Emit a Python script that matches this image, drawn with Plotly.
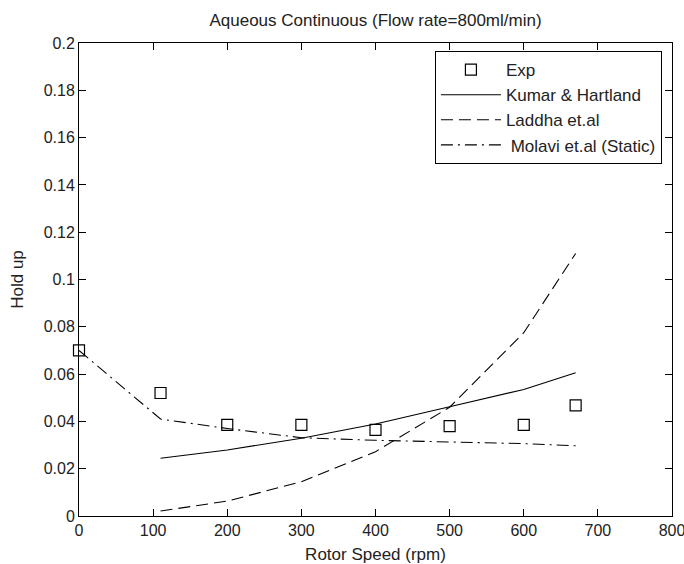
import plotly.graph_objects as go

exp_x = [0, 110, 200, 300, 400, 500, 600, 670]
exp_y = [0.070, 0.052, 0.0385, 0.0385, 0.0364, 0.038, 0.0385, 0.0468]

model_x = [110, 200, 300, 400, 500, 600, 670]
kumar_y = [0.0244, 0.0279, 0.0329, 0.0389, 0.0462, 0.0535, 0.0606]
laddha_y = [0.0021, 0.0063, 0.0145, 0.0272, 0.046, 0.0775, 0.111]

molavi_x = [0, 110, 200, 300, 400, 500, 600, 670]
molavi_y = [0.070, 0.041, 0.037, 0.0331, 0.032, 0.0314, 0.0306, 0.0297]

FONT = "Liberation Sans, Arial, sans-serif"

fig = go.Figure()
fig.add_trace(go.Scatter(x=exp_x, y=exp_y, mode="markers", name="Exp", cliponaxis=False,
                         marker=dict(symbol="square-open", size=11, color="black",
                                     line=dict(width=1.2, color="black"))))
fig.add_trace(go.Scatter(x=model_x, y=kumar_y, mode="lines", name="Kumar & Hartland",
                         line=dict(color="black", width=1.1)))
fig.add_trace(go.Scatter(x=model_x, y=laddha_y, mode="lines", name="Laddha et.al",
                         line=dict(color="black", width=1.1, dash="12px,6px")))
fig.add_trace(go.Scatter(x=molavi_x, y=molavi_y, mode="lines", name="\u00a0Molavi et.al (Static)",
                         line=dict(color="black", width=1.1, dash="12px,5px,2px,5px")))

axis_common = dict(showgrid=False, zeroline=False, showline=True, linecolor="black",
                   linewidth=1, mirror="ticks", ticks="inside", ticklen=7,
                   tickcolor="black", ticklabeloverflow="allow", automargin=False,
                   tickfont=dict(family=FONT, size=16, color="#222"))

fig.update_layout(
    width=684, height=564,
    paper_bgcolor="white", plot_bgcolor="white",
    margin=dict(l=79, r=12, t=43, b=48, autoexpand=False),
    title=dict(text="Aqueous Continuous (Flow rate=800ml/min)", x=0.549, xanchor="center",
               y=0.9645, yanchor="middle", font=dict(family=FONT, size=17, color="#222")),
    xaxis=dict(range=[0, 800], tickmode="array", tickvals=list(range(0, 801, 100)),
               title=dict(text="Rotor Speed (rpm)", font=dict(family=FONT, size=17, color="#222"),
                          standoff=9),
               **axis_common),
    yaxis=dict(range=[0, 0.2], tickmode="array",
               tickvals=[i * 0.02 for i in range(11)],
               ticktext=["0", "0.02", "0.04", "0.06", "0.08", "0.1", "0.12", "0.14", "0.16", "0.18", "0.2"],
               title=dict(text="Hold up", font=dict(family=FONT, size=17, color="#222"),
                          standoff=15),
               **axis_common),
    legend=dict(x=0.983, xanchor="right", y=0.983, yanchor="top",
                bordercolor="black", borderwidth=1, bgcolor="white",
                font=dict(family=FONT, size=17, color="#222"),
                tracegroupgap=0, itemwidth=60),
    showlegend=True,
)

fig.write_html("out.html", config={"displayModeBar": False},
               post_script="document.body.style.margin='0';document.body.style.overflow='hidden';")
